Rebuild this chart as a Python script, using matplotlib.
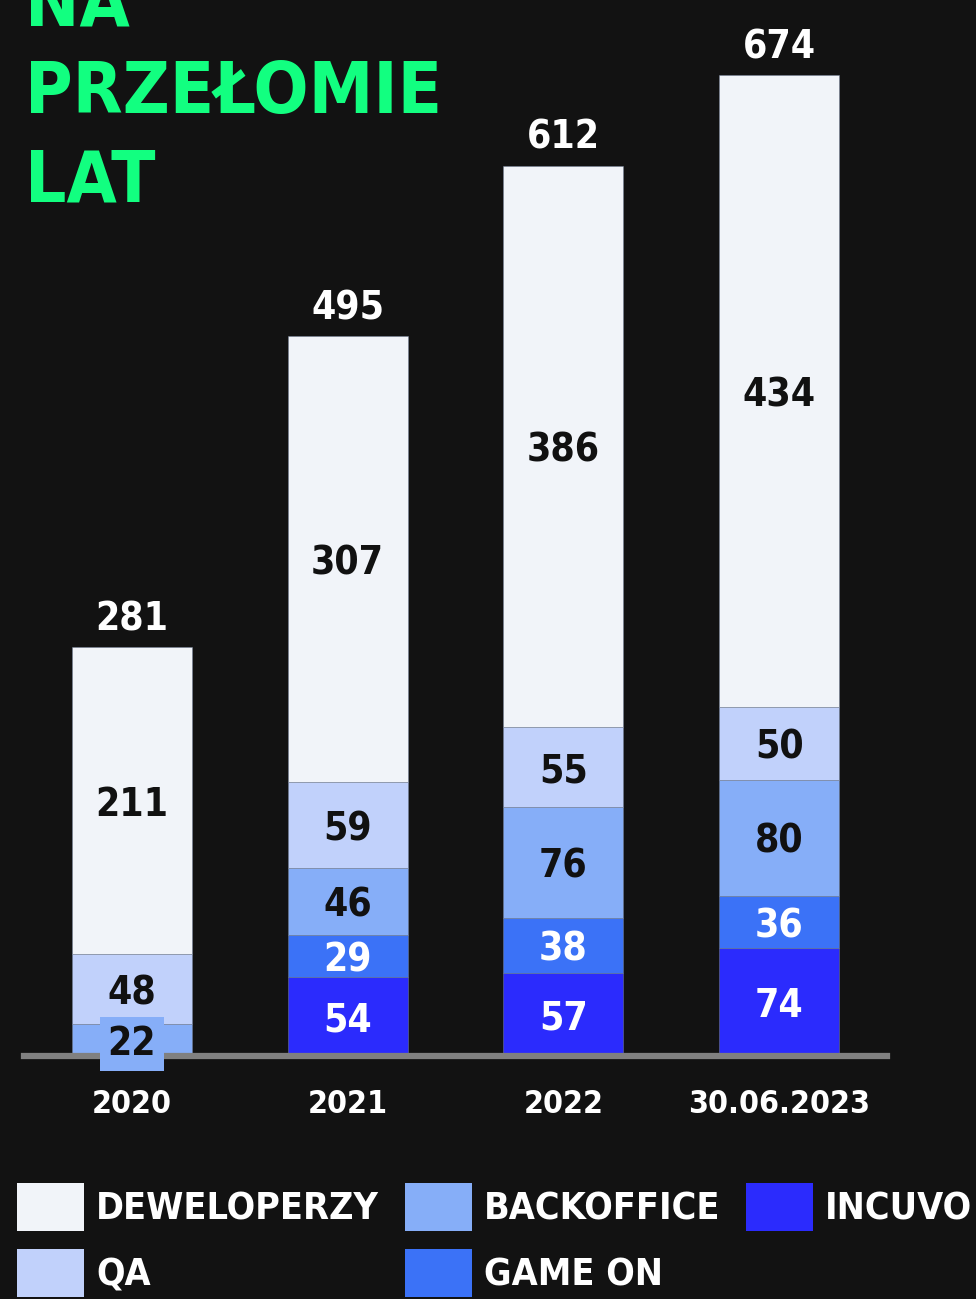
import matplotlib
matplotlib.use("Agg")
import matplotlib.pyplot as plt
import numpy as np

plt.rcParams['font.family'] = ['DejaVu Sans']
plt.rcParams['font.stretch'] = 'condensed'
plt.rcParams['font.weight'] = 'bold'

BG = '#121212'

years = ['2020', '2021', '2022', '30.06.2023']
series = ['INCUVO', 'GAME ON', 'BACKOFFICE', 'QA', 'DEWELOPERZY']
incuvo = [0, 54, 57, 74]
game_on = [0, 29, 38, 36]
backoffice = [22, 46, 76, 80]
qa = [48, 59, 55, 50]
dev = [211, 307, 386, 434]

colors = {'INCUVO': '#2B2BFD', 'GAME ON': '#3B72F7', 'BACKOFFICE': '#86AEF8',
          'QA': '#C1D1FB', 'DEWELOPERZY': '#F1F4F9'}
text_colors = {'INCUVO': 'white', 'GAME ON': 'white', 'BACKOFFICE': '#111111',
               'QA': '#111111', 'DEWELOPERZY': '#111111'}

values = {'INCUVO': incuvo, 'GAME ON': game_on, 'BACKOFFICE': backoffice,
          'QA': qa, 'DEWELOPERZY': dev}

fig = plt.figure(figsize=(9.76, 12.99), dpi=100)
fig.patch.set_facecolor(BG)
ax = fig.add_axes([24/976, (1299-1056)/1299, 863/976, 1018.5/1299])
ax.set_facecolor(BG)

x = np.arange(len(years))
bottom = np.zeros(len(years))
handles = {}
for s in series:
    v = np.array(values[s], dtype=float)
    bars = ax.bar(x, v, 0.556, bottom=bottom, color=colors[s],
                  edgecolor=(0.45, 0.5, 0.6, 0.5), linewidth=0.7, zorder=2)
    handles[s] = bars
    for xi, b, h in zip(x, bottom, v):
        if h <= 0:
            continue
        box = None
        if h < 25:
            # small segment: label sits on a box of its own colour
            box = dict(boxstyle='square,pad=0.2', fc=colors[s], ec='none')
        ax.text(xi, b + h / 2, f'{int(h)}', ha='center', va='center_baseline',
                fontsize=28, color=text_colors[s], zorder=5, bbox=box)
    bottom += v

totals = bottom
for xi, t in zip(x, totals):
    ax.annotate(f'{int(t)}', (xi, t), xytext=(0, 12), textcoords='offset points',
                ha='center', va='baseline', fontsize=28, color='white',
                annotation_clip=False)

ax.set_xlim(-0.5, 3.5)
ax.set_ylim(0, 700)
ax.set_yticks([])
ax.set_xticks(x)
ax.set_xticklabels(years, fontsize=23, color='white')
ax.tick_params(axis='x', length=0, pad=24)
for sp in ['top', 'right', 'left']:
    ax.spines[sp].set_visible(False)
ax.spines['bottom'].set_color('#808080')
ax.spines['bottom'].set_linewidth(4.5)
ax.spines['bottom'].set_zorder(3)

# title (upper lines run off the canvas)
green = '#12FF80'
for txt, ybase in [('NA', 25), ('PRZEŁOMIE', 113), ('LAT', 201)]:
    fig.text(25/976, (1299 - ybase)/1299, txt, fontsize=52, color=green,
             ha='left', va='baseline')

order = ['DEWELOPERZY', 'QA', 'BACKOFFICE', 'GAME ON', 'INCUVO']
leg = fig.legend([handles[s] for s in order], order, loc='upper left',
                 bbox_to_anchor=(17/976, (1299-1183)/1299), ncol=3,
                 frameon=False, fontsize=27, borderpad=0, borderaxespad=0,
                 handlelength=1.79, handleheight=1.6, handletextpad=0.32,
                 columnspacing=0.68, labelspacing=0.48)
for t in leg.get_texts():
    t.set_color('white')
for p in leg.get_patches():
    p.set_edgecolor('none')

fig.savefig('out.png', dpi=100, facecolor=BG)
